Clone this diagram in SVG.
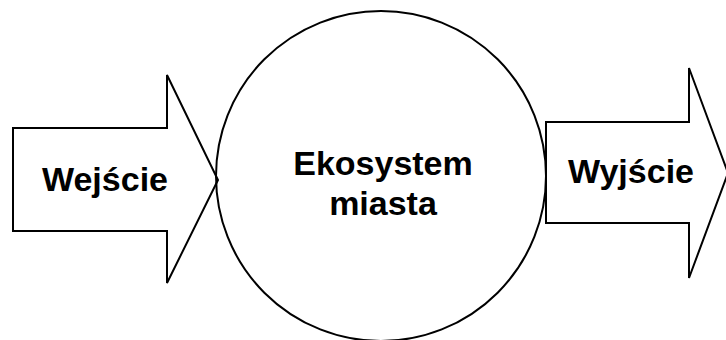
<svg xmlns="http://www.w3.org/2000/svg" width="726" height="340" viewBox="0 0 726 340">
<style>
.shape{fill:none;stroke:#000;stroke-width:2;stroke-linejoin:miter}
.lbl{font-family:"Liberation Sans",Arial,sans-serif;font-weight:bold;font-size:34px;fill:#000;text-anchor:middle}
</style>
<rect width="726" height="340" fill="#fff"/>
<g id="input">
<polygon class="shape" points="13,128 167,128 167,75 218,180 167,283 167,231 13,231"/>
<text class="lbl" x="105" y="191">Wejście</text>
</g>
<g id="ecosystem">
<circle class="shape" cx="381" cy="176" r="165"/>
<text class="lbl" x="383" y="175">Ekosystem</text>
<text class="lbl" x="383" y="215">miasta</text>
</g>
<g id="output">
<polygon class="shape" points="546,122 689,122 689,68 728,173 689,278 689,223 546,223"/>
<text class="lbl" x="631" y="183">Wyjście</text>
</g>
<g id="connectors"></g>
</svg>
